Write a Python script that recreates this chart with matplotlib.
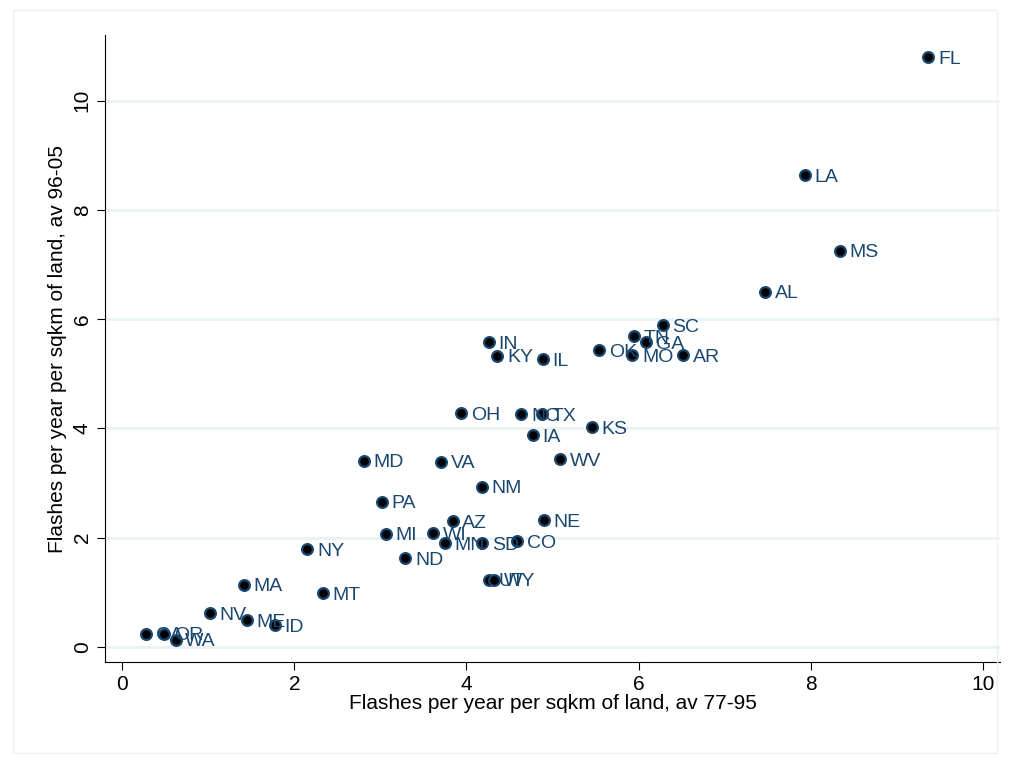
import matplotlib
matplotlib.use("Agg")
import matplotlib.pyplot as plt

states = ["FL","LA","MS","AL","SC","TN","GA","OK","MO","AR","IN","KY","IL","OH","NC","TX","KS","IA","WV",
          "MD","VA","NM","PA","AZ","NE","WI","MI","MN","SD","CO","ND","NY","UT","WY","MA","MT","NV","ME","ID",
          "CA","OR","WA"]
x = [9.37,7.93,8.34,7.47,6.28,5.95,6.09,5.54,5.93,6.52,4.26,4.36,4.89,3.94,4.64,4.88,5.46,4.77,5.09,
     2.81,3.71,4.18,3.02,3.84,4.90,3.61,3.06,3.75,4.18,4.59,3.29,2.15,4.26,4.32,1.41,2.33,1.02,1.45,1.77,
     0.28,0.49,0.62]
y = [10.80,8.64,7.25,6.50,5.89,5.69,5.58,5.43,5.34,5.34,5.58,5.33,5.27,4.28,4.26,4.26,4.02,3.88,3.44,
     3.41,3.39,2.93,2.66,2.30,2.32,2.08,2.07,1.90,1.90,1.94,1.63,1.79,1.23,1.23,1.14,0.98,0.62,0.49,0.40,
     0.24,0.24,0.13]

navy = "#1a476f"
fig = plt.figure(figsize=(10.10, 7.63), dpi=100)
fig.patch.set_facecolor("white")
ax = fig.add_axes([0.104, 0.132, 0.886, 0.822])
ax.scatter(x, y, s=60, c="black", edgecolors=navy, linewidths=1.6, zorder=3)
for s, xi, yi in zip(states, x, y):
    ax.annotate(s, (xi, yi), xytext=(7, -1.5), textcoords="offset points", color=navy,
                fontsize=14, va="center", ha="left", zorder=4, family="Liberation Sans")
ax.set_xlim(-0.2, 10.2)
ax.set_ylim(-0.28, 11.2)
ax.set_xticks([0,2,4,6,8,10])
ax.set_yticks([0,2,4,6,8,10])
ax.grid(axis="y", color="#eaf2f3", linewidth=2)
ax.set_axisbelow(True)
for sp in ["top","right"]:
    ax.spines[sp].set_visible(False)
for sp in ["left","bottom"]:
    ax.spines[sp].set_color("black")
ax.tick_params(labelsize=15, length=6, direction="out")
plt.setp(ax.get_yticklabels(), rotation=90, va="center")
ax.set_xlabel("Flashes per year per sqkm of land, av 77-95", fontsize=15, labelpad=0, family="Liberation Sans")
ax.set_ylabel("Flashes per year per sqkm of land, av 96-05", fontsize=15, labelpad=4, family="Liberation Sans")
for t in ax.get_xticklabels()+ax.get_yticklabels():
    t.set_family("Liberation Sans")
fig.patches.append(plt.Rectangle((0.013,0.013),0.974,0.974, transform=fig.transFigure,
                                 fill=False, edgecolor="#eaf2f3", linewidth=1))
fig.savefig("out.png", dpi=100)
